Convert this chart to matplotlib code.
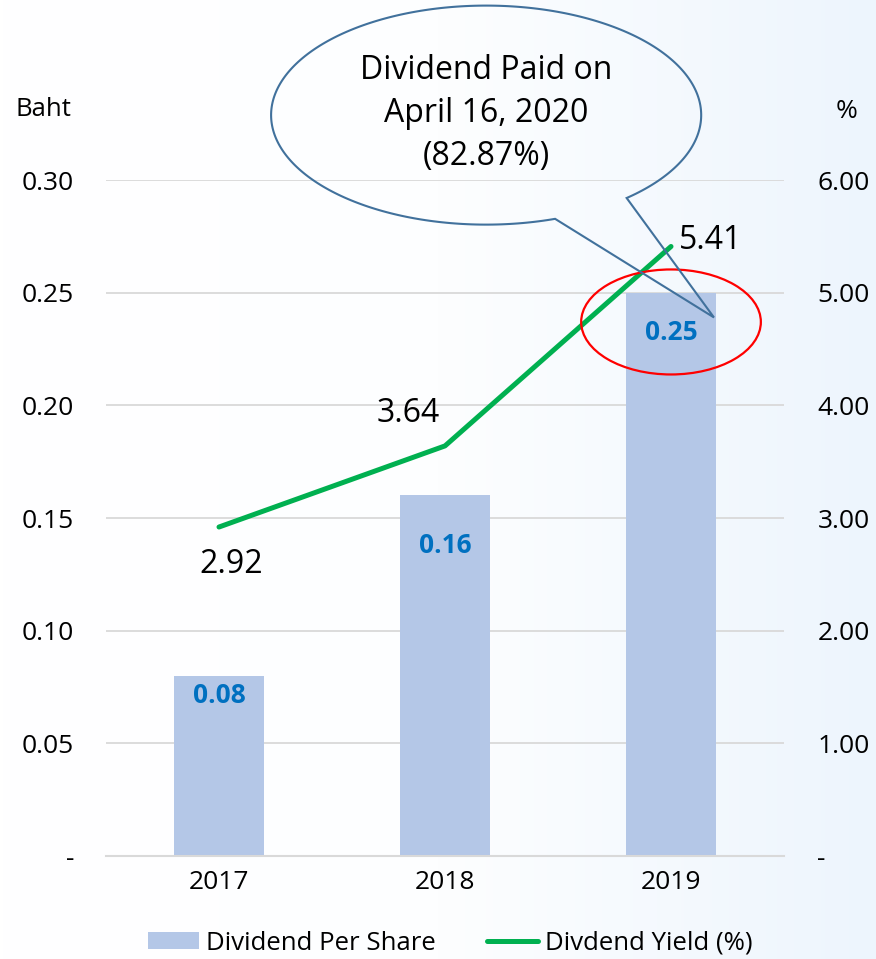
import numpy as np
import matplotlib
matplotlib.use("Agg")
import matplotlib.pyplot as plt
from matplotlib.patches import Ellipse, Polygon, Patch
from matplotlib.lines import Line2D
from matplotlib.colors import LinearSegmentedColormap

plt.rcParams['font.family'] = ['Open Sans', 'DejaVu Sans']

# data
years = ['2017', '2018', '2019']
dps = [0.08, 0.16, 0.25]            # Baht per share
dps_labels = ['0.08', '0.16', '0.25']
yield_pct = [2.92, 3.64, 5.41]      # %
left_ticks = [0, 0.05, 0.10, 0.15, 0.20, 0.25, 0.30]
right_ticks = [0, 1, 2, 3, 4, 5, 6]

fig = plt.figure(figsize=(8.76, 9.59), dpi=100)

# soft white -> light blue background
bg = fig.add_axes([0, 0, 1, 1], zorder=-10)
cmap = LinearSegmentedColormap.from_list('bg', ['#FFFFFF', '#FDFEFF', '#EDF5FD'])
bg.imshow(np.linspace(0, 1, 256).reshape(1, -1), aspect='auto', cmap=cmap,
          extent=[0, 1, 0, 1])
bg.axis('off')

ax = fig.add_axes([0.121, 0.1074, 0.774, 0.7049])
ax.set_facecolor('none')
x = np.arange(len(years))

ax.bar(x, dps, width=0.4, color='#B4C7E7', zorder=2)
ax.set_xlim(-0.5, 2.5)
ax.set_ylim(0, 0.30)
ax.set_yticks(left_ticks)
ax.set_yticklabels(['-' if v == 0 else f'{v:.2f}' for v in left_ticks])
ax.set_xticks(x)
ax.set_xticklabels(years)
ax.tick_params(axis='y', length=0, labelsize=19, pad=23)
ax.tick_params(axis='x', length=0, labelsize=19, pad=10)
ax.yaxis.grid(True, color='#D9D9D9', linewidth=1.3, zorder=0)
ax.set_axisbelow(True)
for s in ['top', 'left', 'right']:
    ax.spines[s].set_visible(False)
ax.spines['bottom'].set_color('#D9D9D9')
ax.spines['bottom'].set_linewidth(1.5)

# bar value labels
offsets = [-20, -50, -40]
for xi, v, lab, off in zip(x, dps, dps_labels, offsets):
    ax.annotate(lab, (xi, v), xytext=(0, off), textcoords='offset pixels',
                ha='center', va='center', fontsize=19, fontweight='bold',
                color='#0070C0', zorder=3)

ax2 = ax.twinx()
ax2.set_ylim(0, 6)
ax2.set_yticks(right_ticks)
ax2.set_yticklabels(['-' if v == 0 else f'{v:.2f}' for v in right_ticks])
ax2.tick_params(axis='y', length=0, labelsize=19, pad=24)
for s in ax2.spines.values():
    s.set_visible(False)

ax2.plot(x, yield_pct, color='#00B050', linewidth=3.6, solid_capstyle='round',
         zorder=3)
label_off = [(12, -37), (-37, 32), (40, 6)]
for xi, v, (dx, dy) in zip(x, yield_pct, label_off):
    ax2.annotate(f'{v:.2f}', (xi, v), xytext=(dx, dy), textcoords='offset pixels',
                 ha='center', va='center', fontsize=23, color='black')

# axis unit labels
fig.text(43 / 876, 1 - 110 / 959, 'Baht', ha='center', va='center', fontsize=18.5)
fig.text(847 / 876, 1 - 112 / 959, '%', ha='center', va='center', fontsize=19)

# red circle around 2019 bar
ax2.add_patch(Ellipse((2, 0.237), 0.795, 0.0466, transform=ax.transData,
                      fill=False, edgecolor='#FF0000', linewidth=1.6,
                      zorder=5, clip_on=False))

# speech bubble callout
cx, cy, w, h = 1.182, 0.3288, 1.903, 0.0972
t = np.radians(np.linspace(71.3, 409.2, 300))
pts = np.column_stack([cx + w / 2 * np.cos(t), cy - h / 2 * np.sin(t)])
tip = np.array([[2.19, 0.239]])
pts = np.vstack([pts, tip])
ax2.add_patch(Polygon(pts, closed=True, fill=False, edgecolor='#41719C',
                      linewidth=1.5, transform=ax.transData, zorder=6,
                      clip_on=False))
ax2.text(cx, cy + 0.0005, 'Dividend Paid on\nApril 16, 2020\n(82.87%)',
         transform=ax.transData, ha='center', va='center', fontsize=23,
         linespacing=1.4, zorder=7)

# legend
handles = [Patch(facecolor='#B4C7E7', edgecolor='none'),
           Line2D([0], [0], color='#00B050', linewidth=3.6, solid_capstyle='round')]
fig.legend(handles, ['Dividend Per Share', 'Divdend Yield (%)'],
           loc='center', bbox_to_anchor=(450 / 876, 1 - 943 / 959), ncol=2,
           frameon=False, fontsize=18.5, handlelength=2.0, handleheight=0.6,
           handletextpad=0.25, columnspacing=2.0)

fig.savefig('out.png', dpi=100)
